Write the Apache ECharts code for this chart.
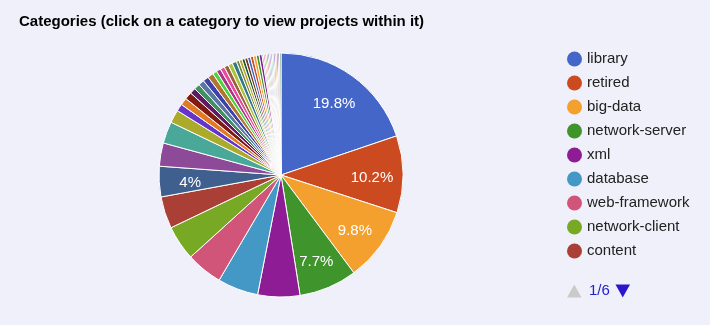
<!DOCTYPE html>
<html>
<head>
<meta charset="utf-8">
<script src="https://cdn.jsdelivr.net/npm/echarts@6/dist/echarts.min.js"></script>
<style>
  html, body { margin: 0; padding: 0; background: #f0f0fa; }
  #chart { width: 710px; height: 325px; }
</style>
</head>
<body>
<div id="chart"></div>
<script>
// ---- data ----
const titleText = 'Categories (click on a category to view projects within it)';
const categories = [
  'library', 'retired', 'big-data', 'network-server', 'xml', 'database',
  'web-framework', 'network-client', 'content', 'build-management', 'http', 'testing',
  'javaee', 'cloud', 'osgi', 'mail', 'security', 'graphics', 'search', 'httpd-modules',
  'hadoop', 'ftp', 'mobile', 'virtual-machine', 'geospatial', 'iot', 'javascript',
  'sql', 'regexp', 'api', 'python', 'email', 'innovation', 'ruby', 'ide', 'rdf',
  'blockchain', 'fpga', 'workflow', 'messaging', 'logging', 'scripting',
  'semantic-web', 'web', 'xmldb', 'gis', 'monitoring', 'machine-learning', 'microservices'
];
const projectCounts = [
  103, 53, 51, 40, 29, 28,
  25, 24, 22, 21, 16, 15,
  9, 5, 5, 5, 4, 4, 4, 4,
  4, 3, 3, 3, 3, 3, 3,
  2, 2, 2, 2, 2, 2, 2, 2, 2,
  1, 1, 1, 1, 1, 1,
  1, 1, 1, 1, 1, 1, 1
];
const labelledCategories = ['library', 'retired', 'big-data', 'network-server', 'build-management'];
const legendPageSize = 9;
const legendPage = 1;
const palette = [
  '#4466c9', '#cc4a20', '#f4a02f', '#3f952b', '#8e1c94', '#4398c6', '#d05579', '#78a924',
  '#a93f35', '#3f5f8f', '#8d4a99', '#4aa898', '#aaaa2b', '#6435c8', '#e07a24', '#801a12',
  '#5e1a63', '#3f9063', '#5a75a6', '#3f43a8', '#b17631', '#4dd43b', '#b0318a', '#e94a9f',
  '#99613e', '#adc239', '#34778b', '#6c8c2c', '#bda12c', '#1f5828', '#733a1d'
];

const pieData = categories.map((name, i) => ({ name: name, value: projectCounts[i] }));
const pageCount = Math.ceil(categories.length / legendPageSize);
const legendNames = categories.slice((legendPage - 1) * legendPageSize, legendPage * legendPageSize);
const font = '"Liberation Sans", Arial, sans-serif';

const chart = echarts.init(document.getElementById('chart'), null, { renderer: 'canvas' });
chart.setOption({
  backgroundColor: '#f0f0fa',
  color: palette,
  animation: false,
  title: {
    text: titleText,
    left: 19,
    top: 14,
    padding: 0,
    textStyle: { fontFamily: font, fontSize: 15, fontWeight: 'bold', color: '#000' }
  },
  legend: {
    type: 'plain',
    orient: 'vertical',
    left: 567,
    top: 51.5,
    padding: 0,
    icon: 'circle',
    itemWidth: 15,
    itemHeight: 15,
    itemGap: 9,
    itemStyle: { borderWidth: 0 },
    textStyle: { fontFamily: font, fontSize: 15, lineHeight: 15, color: '#222' },
    data: legendNames
  },
  graphic: [
    {
      type: 'polygon',
      left: 567, top: 284.5,
      shape: { points: [[0, 13], [7.25, 0], [14.5, 13]] },
      style: { fill: legendPage > 1 ? '#2a16cc' : '#cacaca' }
    },
    {
      type: 'text',
      left: 589, top: 283,
      style: {
        text: legendPage + '/' + pageCount,
        font: '15px ' + font,
        fill: '#2222cc'
      }
    },
    {
      type: 'polygon',
      left: 615.5, top: 284.5,
      shape: { points: [[0, 0], [14.5, 0], [7.25, 13]] },
      style: { fill: legendPage < pageCount ? '#2a16cc' : '#cacaca' }
    }
  ],
  series: [
    {
      name: 'Categories',
      type: 'pie',
      center: [281, 175],
      radius: [0, 122],
      startAngle: 90,
      clockwise: true,
      itemStyle: { borderColor: '#ffffff', borderWidth: 1 },
      label: { show: false },
      labelLine: { show: false },
      emphasis: { scale: false },
      data: pieData
    },
    {
      name: 'labels',
      type: 'pie',
      center: [281, 175],
      radius: [54, 122],
      startAngle: 90,
      clockwise: true,
      silent: true,
      legendHoverLink: false,
      itemStyle: { color: 'rgba(0,0,0,0)', borderWidth: 0 },
      label: {
        show: true,
        position: 'inside',
        offset: [0, 3],
        fontFamily: font,
        fontSize: 15,
        color: '#ffffff',
        formatter: p => labelledCategories.indexOf(p.name) >= 0
          ? (Math.round(p.percent * 10) / 10) + '%' : ''
      },
      labelLine: { show: false },
      emphasis: { disabled: true },
      data: pieData
    }
  ]
});
</script>
</body>
</html>
